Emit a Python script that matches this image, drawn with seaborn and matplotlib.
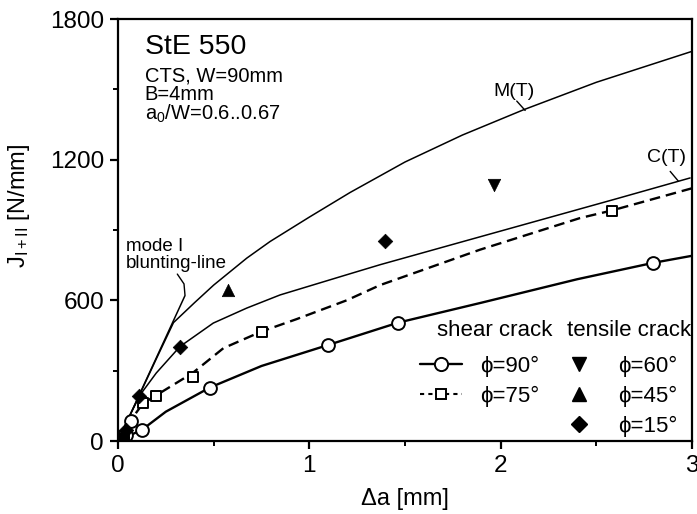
import matplotlib
matplotlib.use("Agg")
import matplotlib.pyplot as plt
import seaborn as sns
from matplotlib.lines import Line2D

# ---------------- data ----------------
# phi = 90 deg shear crack (open circles, solid fit line)
phi90_x = [0.02, 0.04, 0.07, 0.124, 0.48, 1.10, 1.465, 2.798]
phi90_y = [10, 25, 85, 47, 228, 410, 505, 760]
fit90_x = [0, 0.05, 0.124, 0.25, 0.48, 0.75, 1.10, 1.465, 1.9, 2.4, 2.798, 3.0]
fit90_y = [0, 20, 47, 125, 228, 320, 410, 505, 590, 690, 760, 790]

# phi = 75 deg shear crack (open squares, dashed fit line)
phi75_x = [0.03, 0.13, 0.2, 0.39, 0.75, 2.58]
phi75_y = [20, 160, 192, 275, 467, 983]
fit75_x = [0, 0.05, 0.13, 0.2, 0.39, 0.551, 0.75, 0.934, 1.195, 1.37, 1.892, 2.415, 2.58, 3.0]
fit75_y = [0, 70, 160, 195, 290, 396, 467, 520, 600, 665, 816, 951, 983, 1078]

# tensile cracks
phi60_x = [0.015, 1.966]
phi60_y = [10, 1093]
phi45_x = [0.03, 0.577]
phi45_y = [25, 645]
phi15_x = [0.02, 0.04, 0.11, 0.324, 1.396]
phi15_y = [15, 45, 192, 403, 855]

# reference curves
mt_x = [0, 0.1, 0.2, 0.29, 0.4, 0.5, 0.673, 0.795, 1.0, 1.213, 1.5, 1.8, 2.12, 2.5, 3.0]
mt_y = [0, 175, 350, 505, 590, 665, 780, 851, 955, 1060, 1190, 1305, 1413, 1530, 1662]
ct_x = [0, 0.05, 0.115, 0.2, 0.324, 0.498, 0.673, 0.847, 1.021, 1.195, 1.37, 1.8, 2.2, 2.6, 2.99]
ct_y = [0, 90, 196, 290, 403, 503, 567, 623, 666, 709, 752, 850, 941, 1032, 1122]
blunt_x = [0, 0.35]
blunt_y = [0, 620]

x_ticks = [0, 1, 2, 3]
y_ticks = [0, 600, 1200, 1800]

# ---------------- style ----------------
sns.set_theme(style="ticks")
FONT = ["Liberation Sans", "DejaVu Sans"]
plt.rcParams["font.family"] = FONT
plt.rcParams["mathtext.fontset"] = "custom"
plt.rcParams["mathtext.rm"] = "Liberation Sans"
plt.rcParams["mathtext.it"] = "Liberation Sans:italic"
plt.rcParams["mathtext.bf"] = "Liberation Sans:bold"

fig = plt.figure(figsize=(6.97, 5.14), dpi=100)
ax = fig.add_axes([118 / 697, 1 - 441 / 514, 574 / 697, 422 / 514])

K = "black"
# curves
sns.lineplot(x=mt_x, y=mt_y, ax=ax, color=K, lw=1.1, sort=False, estimator=None)
sns.lineplot(x=ct_x, y=ct_y, ax=ax, color=K, lw=1.1, sort=False, estimator=None)
sns.lineplot(x=blunt_x, y=blunt_y, ax=ax, color=K, lw=1.1, sort=False, estimator=None)
sns.lineplot(x=fit90_x, y=fit90_y, ax=ax, color=K, lw=1.7, sort=False, estimator=None)
sns.lineplot(x=fit75_x, y=fit75_y, ax=ax, color=K, lw=1.7, sort=False, estimator=None,
             linestyle=(0, (4.5, 2.5)))

# markers
sns.scatterplot(x=phi90_x, y=phi90_y, ax=ax, marker="o", s=85, color="white",
                edgecolor=K, linewidth=1.4, zorder=5)
sns.scatterplot(x=phi75_x, y=phi75_y, ax=ax, marker="s", s=45, color="white",
                edgecolor=K, linewidth=1.4, zorder=5)
sns.scatterplot(x=phi60_x, y=phi60_y, ax=ax, marker="v", s=80, color=K,
                edgecolor=K, linewidth=0.5, zorder=5)
sns.scatterplot(x=phi45_x, y=phi45_y, ax=ax, marker="^", s=80, color=K,
                edgecolor=K, linewidth=0.5, zorder=5)
sns.scatterplot(x=phi15_x, y=phi15_y, ax=ax, marker="D", s=55, color=K,
                edgecolor=K, linewidth=0.5, zorder=5)

# axes
ax.set_xlim(0, 3)
ax.set_ylim(0, 1800)
ax.set_xticks(x_ticks)
ax.set_xticklabels([str(v) for v in x_ticks])
ax.set_yticks(y_ticks)
ax.set_yticklabels([str(v) for v in y_ticks])
ax.set_xticks([0.5, 1.5, 2.5], minor=True)
ax.set_yticks([300, 900, 1500], minor=True)
ax.tick_params(which="major", direction="out", length=6, width=1.6, labelsize=17.5,
               colors=K, pad=4)
ax.tick_params(which="minor", direction="out", length=3.5, width=1.4, colors=K)
for s in ax.spines.values():
    s.set_visible(True)
    s.set_linewidth(1.6)
    s.set_color(K)

ax.set_xlabel("Δa [mm]", fontsize=17, color=K)
ax.set_ylabel(r"J$_{\mathrm{I+II}}$ [N/mm]", fontsize=17, color=K)
ax.yaxis.set_label_coords(-0.15, 0.557)
ax.xaxis.set_label_coords(0.5, -0.112)

# annotation texts
ax.text(0.14, 1682, "StE 550", fontsize=20.5, va="center", ha="left", color=K)
ax.text(0.14, 1598, "CTS, W=90mm\nB=4mm\n" + r"a$_0$/W=0.6..0.67", fontsize=14.5,
        va="top", ha="left", color=K, linespacing=0.95)

ax.text(0.04, 722, "mode I\nblunting-line", fontsize=13.5, va="bottom", ha="left",
        color=K, linespacing=1.0)
sns.lineplot(x=[0.31, 0.345, 0.35], y=[712, 670, 623], ax=ax, color=K, lw=1.0,
             sort=False, estimator=None)

ax.text(2.07, 1490, "M(T)", fontsize=14, va="center", ha="center", color=K)
sns.lineplot(x=[2.084, 2.128], y=[1450, 1410], ax=ax, color=K, lw=1.0, sort=False, estimator=None)
ax.text(2.868, 1210, "C(T)", fontsize=14, va="center", ha="center", color=K)
sns.lineplot(x=[2.886, 2.929], y=[1150, 1108], ax=ax, color=K, lw=1.0, sort=False, estimator=None)

# legend
ax.text(0.657, 0.261, "shear crack", transform=ax.transAxes, fontsize=16,
        ha="center", va="center", color=K)
ax.text(0.782, 0.261, "tensile crack", transform=ax.transAxes, fontsize=16,
        ha="left", va="center", color=K, clip_on=True)

h90 = Line2D([], [], color=K, lw=1.7, marker="o", ms=9.5, mfc="white", mec=K, mew=1.4)
h75 = Line2D([], [], color=K, lw=1.5, ls=(0, (2, 2)), marker="s", ms=7, mfc="white", mec=K, mew=1.4)
hblank = Line2D([], [], color="none")
h60 = Line2D([], [], color="none", marker="v", ms=10, mfc=K, mec=K)
h45 = Line2D([], [], color="none", marker="^", ms=10, mfc=K, mec=K)
h15 = Line2D([], [], color="none", marker="D", ms=8, mfc=K, mec=K)
leg = ax.legend([h90, h75, hblank, h60, h45, h15],
                ["ϕ=90°", "ϕ=75°", "", "ϕ=60°", "ϕ=45°", "ϕ=15°"],
                ncol=2, loc="upper left", bbox_to_anchor=(0.526, 0.202),
                frameon=False, fontsize=16, borderpad=0, borderaxespad=0,
                handlelength=1.9, handletextpad=0.8, columnspacing=0.85,
                labelspacing=0.4)
for t in leg.get_texts():
    t.set_color(K)

fig.savefig("out.png", dpi=100)
